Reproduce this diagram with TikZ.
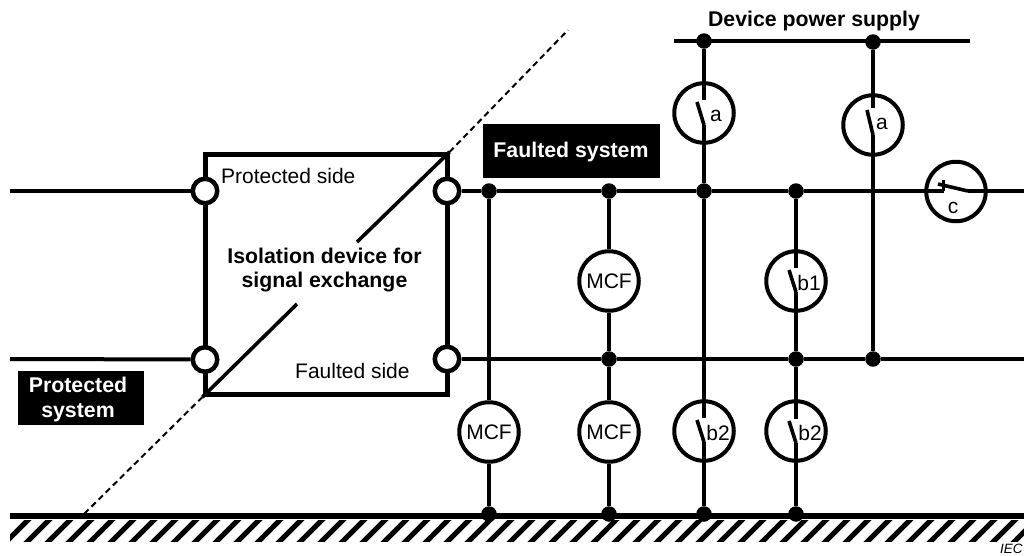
\documentclass[tikz,border=0pt]{standalone}
\usepackage{fontspec}
\setmainfont{Liberation Sans}
\tikzset{
  x=1pt,y=-1pt,
  bus/.style={line width=4pt,line cap=butt},
  thinw/.style={line width=3.6pt,line cap=butt},
  blade/.style={line width=3.6pt,line cap=butt},
  dot/.style={circle,fill=black,inner sep=0pt,minimum size=15.5pt},
  port/.style={circle,draw,line width=4.5pt,fill=white,inner sep=0pt,minimum size=24.5pt},
  relay/.style={circle,draw,line width=4pt,fill=white,inner sep=0pt,minimum size=59.5pt},
  txt/.style={inner sep=0pt,font=\fontsize{21}{25}\selectfont,align=center},
  btxt/.style={inner sep=0pt,font=\fontsize{21.3}{24.8}\selectfont\bfseries,align=center},
  tag/.style={fill=black,text=white,inner sep=0pt},
  tagtxt/.style={text=white,inner sep=0pt,font=\fontsize{21.3}{25.2}\selectfont\bfseries,align=center},
  divider/.style={dash pattern=on 6pt off 4pt,line width=2pt},
}
\begin{document}
\begin{tikzpicture}
\useasboundingbox (0,0) rectangle (1024,555);
\clip (0,0) rectangle (1024,555);
% free ends
\coordinate (L1) at (10,191);
\coordinate (L2) at (10,359);
\coordinate (R1) at (1024,191);
\coordinate (R2) at (1024,359);
\coordinate (PL) at (674,40.5);
\coordinate (PR) at (970,40.5);
\coordinate (GL) at (10,516);
\coordinate (GR) at (1024,516);
\coordinate (DT) at (568,30);
\coordinate (DB) at (84,514);
% ground hatching
\begin{scope}
  \clip (10,520) rectangle (1024,541);
  \foreach \i in {0,...,50}{
    \draw[line width=5pt] (0+21*\i,548) -- (35+21*\i,513);
  }
\end{scope}
% isolation box
\node[draw,line width=5pt,minimum width=242pt,minimum height=240pt,inner sep=0pt] (box) at (326,274.5) {};
\coordinate (D1) at (297,304);
\coordinate (D2) at (357,242);
\draw[thinw] (box.south west) -- (D1);
\draw[thinw] (D2) -- (box.north east);
\draw[divider] (box.north east) -- (DT);
\draw[divider] (box.south west) -- (DB);
% ports
\node[port] (p1) at (205,191) {};
\node[port] (p2) at (205,359.5) {};
\node[port] (p3) at (447,191) {};
\node[port] (p4) at (447,359) {};
% junctions
\node[dot] (j1) at (489,191) {};
\node[dot] (j2) at (609,191) {};
\node[dot] (j3) at (704,191) {};
\node[dot] (j4) at (796,191) {};
\node[dot] (k2) at (609,359) {};
\node[dot] (k4) at (796,359) {};
\node[dot] (k5) at (873,359) {};
\node[dot] (t1) at (704,41) {};
\node[dot] (t2) at (873,42) {};
\node[dot] (g1) at (489,514) {};
\node[dot] (g2) at (609,514) {};
\node[dot] (g3) at (704,514) {};
\node[dot] (g4) at (796,514) {};
% relays
\node[relay] (mA) at (609,281) {};
\node[relay] (mB) at (609,432) {};
\node[relay] (mC) at (489,432) {};
\node[relay] (sa1) at (704,113) {};
\node[relay] (sa2) at (873,125) {};
\node[relay] (sb1) at (796,281) {};
\node[relay] (sb2) at (704,431) {};
\node[relay] (sb3) at (796,431) {};
\node[relay] (sc) at (956,191.5) {};
% switch c points
\coordinate (c1) at (944,191);
\coordinate (c2) at (968,191);
\coordinate (c3) at (938,184);
\coordinate (c4) at (943,180);
\coordinate (c5) at (943,191);
% buses
\draw[bus] (L1) -- (p1);
\draw[bus] (L2) -- (p2);
\draw[bus] (p3) -- (j1) -- (j2) -- (j3) -- (j4) -- (c1);
\draw[bus] (p4) -- (k2) -- (k4) -- (k5) -- (R2);
\draw[bus] (PL) -- (PR);
\draw[line width=6.3pt] (GL) -- (GR);
% MCF legs
\draw[thinw] (j1) -- (mC);
\draw[thinw] (mC) -- (g1);
\draw[thinw] (j2) -- (mA);
\draw[thinw] (mA) -- (k2);
\draw[thinw] (k2) -- (mB);
\draw[thinw] (mB) -- (g2);
% switch a (left)
\coordinate (a1u) at (704,100);
\coordinate (a1m) at (704,125);
\coordinate (a1b) at (697,102);
\draw[thinw] (t1) -- (a1u);
\draw[thinw] (a1m) -- (j3);
\draw[blade] (a1b) -- (a1m);
\node[txt] (la1) at (716,116) {a};
% switch a (right)
\coordinate (a2u) at (873,108);
\coordinate (a2m) at (873,135);
\coordinate (a2b) at (867,110);
\draw[thinw] (t2) -- (a2u);
\draw[thinw] (a2m) -- (k5);
\draw[blade] (a2b) -- (a2m);
\node[txt] (la2) at (882,124) {a};
% switch b1
\coordinate (b1u) at (796,268);
\coordinate (b1m) at (796,292);
\coordinate (b1b) at (789,270);
\draw[thinw] (j4) -- (b1u);
\draw[thinw] (b1m) -- (k4);
\draw[blade] (b1b) -- (b1m);
\node[txt] (lb1) at (809,283) {b1};
% switch b2 (left)
\coordinate (b2u) at (704,418);
\coordinate (b2m) at (704,442);
\coordinate (b2b) at (697,420);
\draw[thinw] (j3) -- (b2u);
\draw[thinw] (b2m) -- (g3);
\draw[blade] (b2b) -- (b2m);
\node[txt] (lb2) at (718,433) {b2};
% switch b2 (right)
\coordinate (b3u) at (796,419);
\coordinate (b3m) at (796,443);
\coordinate (b3b) at (789,421);
\draw[thinw] (k4) -- (b3u);
\draw[thinw] (b3m) -- (g4);
\draw[blade] (b3b) -- (b3m);
\node[txt] (lb3) at (810,433) {b2};
% switch c
\draw[bus] (c2) -- (R1);
\draw[blade] (c3) -- (c2);
\draw[line width=3pt] (c4) -- (c5);
\node[txt] (lc) at (953,208) {c};
% text
\node[txt] at (mA) {MCF};
\node[txt] at (mB) {MCF};
\node[txt] at (mC) {MCF};
\node[txt,anchor=west] (ps) at (221,176) {Protected side};
\node[txt,anchor=west] (fs) at (295,370.5) {Faulted side};
\node[btxt] (iso) at (324.5,270) {Isolation device for\\signal exchange};
\node[btxt] (dps) at (814,20.7) {Device power supply};
\node[tag,minimum width=177pt,minimum height=54pt] (fsysbox) at (571.5,151) {};
\node[tagtxt] (fsys) at (571,151.5) {Faulted system};
\node[tag,minimum width=126pt,minimum height=54pt] (psysbox) at (81,398) {};
\node[tagtxt] (psys) at (78,399.5) {Protected\\system};
\node[inner sep=0pt,anchor=base west,font=\fontsize{13.5}{14}\selectfont\itshape] (iec) at (1000,553.5) {IEC};
\end{tikzpicture}
\end{document}
